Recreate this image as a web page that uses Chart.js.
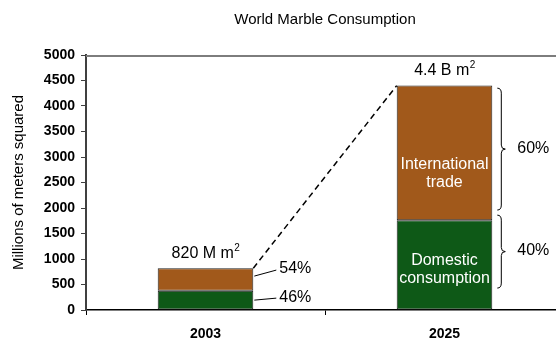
<!DOCTYPE html>
<html lang="en">
<head>
    <meta charset="UTF-8">
    <title>World Marble Consumption</title>
    <script src="https://cdn.jsdelivr.net/npm/chart.js"></script>
    <style>
        html, body { margin: 0; padding: 0; overflow: hidden; background: #fff; }
        #wrap { width: 564px; height: 339px; position: relative; }
    </style>
</head>
<body>
    <div id="wrap">
        <canvas id="marbleChart"></canvas>
    </div>
    <script>
        // Consumption in millions of square meters
        const years = ['2003', '2025'];
        const domestic = [377, 1760];
        const international = [443, 2640];
        const totalLabels = ['820 M m', '4.4 B m'];
        const shareLabels2003 = ['54%', '46%'];
        const shareLabels2025 = ['60%', '40%'];
        const yTicks = [0, 500, 1000, 1500, 2000, 2500, 3000, 3500, 4000, 4500, 5000];

        // brace spans (in data units) for the 2025 bar
        const braceSpans = [[4350, 1960], [1860, 430]];
        // anchor values for the text written inside the 2025 segments
        const innerLabelValues = [2667, 794];
        const innerLabels = [['International', 'trade'], ['Domestic', 'consumption']];

        const FONT = "'Liberation Sans', Arial, sans-serif";
        const BROWN = '#A1591B';
        const GREEN = '#0E5917';

        function supText(ctx, text, x, y) {
            ctx.font = '16px ' + FONT;
            const w1 = ctx.measureText(text).width;
            ctx.font = '10px ' + FONT;
            const w2 = ctx.measureText('2').width;
            const start = x - (w1 + w2) / 2;
            ctx.textAlign = 'left';
            ctx.textBaseline = 'middle';
            ctx.font = '16px ' + FONT;
            ctx.fillText(text, start, y);
            ctx.font = '10px ' + FONT;
            ctx.fillText('2', start + w1 + 0.5, y - 5);
        }

        function brace(ctx, x, top, bottom) {
            const mid = (top + bottom) / 2;
            const w = 8;
            ctx.beginPath();
            ctx.moveTo(x, top);
            ctx.quadraticCurveTo(x + w / 2, top, x + w / 2, top + 5);
            ctx.lineTo(x + w / 2, mid - 4);
            ctx.quadraticCurveTo(x + w / 2, mid, x + w, mid);
            ctx.quadraticCurveTo(x + w / 2, mid, x + w / 2, mid + 4);
            ctx.lineTo(x + w / 2, bottom - 5);
            ctx.quadraticCurveTo(x + w / 2, bottom, x, bottom);
            ctx.stroke();
        }

        const annotations = {
            id: 'annotations',
            afterDraw(chart) {
                const { ctx, chartArea } = chart;
                // grey frame line along the top of the plot
                ctx.save();
                ctx.strokeStyle = '#7d7d7d';
                ctx.lineWidth = 2;
                ctx.beginPath();
                ctx.moveTo(chartArea.left, chartArea.top + 1);
                ctx.lineTo(chartArea.right, chartArea.top + 1);
                ctx.stroke();
                ctx.restore();
            },
            afterDatasetsDraw(chart) {
                const { ctx } = chart;
                const y = chart.scales.y;
                const green = chart.getDatasetMeta(0).data;
                const brown = chart.getDatasetMeta(1).data;
                ctx.save();
                ctx.fillStyle = '#000';
                ctx.strokeStyle = '#000';

                // totals above the bars
                brown.forEach((bar, i) => supText(ctx, totalLabels[i], bar.x, bar.y - 15));

                // dashed growth line between bar tops
                const a = brown[0], b = brown[1];
                ctx.setLineDash([6, 4]);
                ctx.lineWidth = 1.5;
                ctx.beginPath();
                ctx.moveTo(a.x + a.width / 2, a.y);
                ctx.lineTo(b.x - b.width / 2, b.y);
                ctx.stroke();
                ctx.setLineDash([]);

                // 2003 shares with leader lines
                ctx.lineWidth = 1;
                ctx.font = '16px ' + FONT;
                ctx.textAlign = 'left';
                ctx.textBaseline = 'middle';
                const right0 = a.x + a.width / 2;
                const brownStart = a.y + (a.base - a.y) * 0.35;
                const g0 = green[0];
                const greenStart = (g0.y + g0.base) / 2;
                [[brownStart, brownStart - 6], [greenStart, greenStart - 2]].forEach((pts, i) => {
                    ctx.beginPath();
                    ctx.moveTo(right0 + 1, pts[0]);
                    ctx.lineTo(right0 + 23, pts[1]);
                    ctx.stroke();
                    ctx.fillText(shareLabels2003[i], right0 + 26, pts[1] - 1);
                });

                // 2025 shares with braces
                const right1 = b.x + b.width / 2;
                ctx.lineWidth = 1;
                braceSpans.forEach((span, i) => {
                    const top = y.getPixelForValue(span[0]);
                    const bottom = y.getPixelForValue(span[1]);
                    brace(ctx, right1 + 5, top, bottom);
                    ctx.fillText(shareLabels2025[i], right1 + 25, (top + bottom) / 2 - 1);
                });

                // labels inside the 2025 segments
                ctx.fillStyle = '#fff';
                ctx.textAlign = 'center';
                innerLabels.forEach((lines, i) => {
                    const cy = y.getPixelForValue(innerLabelValues[i]);
                    ctx.fillText(lines[0], b.x, cy - 9);
                    ctx.fillText(lines[1], b.x, cy + 9);
                });
                ctx.restore();
            }
        };

        new Chart(document.getElementById('marbleChart'), {
            type: 'bar',
            data: {
                labels: years,
                datasets: [
                    {
                        label: 'Domestic consumption',
                        data: domestic,
                        backgroundColor: GREEN,
                        borderColor: '#222',
                        borderWidth: 1,
                        borderSkipped: false
                    },
                    {
                        label: 'International trade',
                        data: international,
                        backgroundColor: BROWN,
                        borderColor: '#222',
                        borderWidth: 1,
                        borderSkipped: false
                    }
                ]
            },
            options: {
                responsive: true,
                maintainAspectRatio: false,
                animation: false,
                categoryPercentage: 1,
                barPercentage: 0.4,
                layout: { padding: 0 },
                plugins: {
                    legend: { display: false },
                    tooltip: { enabled: false },
                    title: {
                        display: true,
                        text: 'World Marble Consumption',
                        fullSize: false,
                        color: '#000',
                        font: { family: FONT, size: 15, weight: 'normal' },
                        padding: { top: 11, bottom: 26 }
                    }
                },
                scales: {
                    x: {
                        stacked: true,
                        grid: {
                            display: true,
                            drawOnChartArea: false,
                            tickLength: 5,
                            color: '#000'
                        },
                        border: { color: '#000', width: 1.5 },
                        ticks: {
                            color: '#000',
                            padding: 11,
                            font: { family: FONT, size: 14, weight: 'bold' }
                        },
                        afterFit(axis) { axis.height = 29; }
                    },
                    y: {
                        stacked: true,
                        min: 0,
                        max: 5000,
                        afterBuildTicks(axis) { axis.ticks = yTicks.map(v => ({ value: v })); },
                        grid: {
                            display: true,
                            drawOnChartArea: false,
                            tickLength: 5,
                            color: '#404040'
                        },
                        border: { color: '#404040', width: 2 },
                        ticks: {
                            color: '#000',
                            padding: 6,
                            font: { family: FONT, size: 14, weight: 'bold' },
                            callback: (v) => String(v)
                        },
                        title: {
                            display: true,
                            text: 'Millions of meters squared',
                            color: '#000',
                            font: { family: FONT, size: 15 },
                            padding: { top: 10, bottom: 0 }
                        },
                        afterFit(axis) { axis.width = 86; }
                    }
                }
            },
            plugins: [annotations]
        });
    </script>
</body>
</html>
